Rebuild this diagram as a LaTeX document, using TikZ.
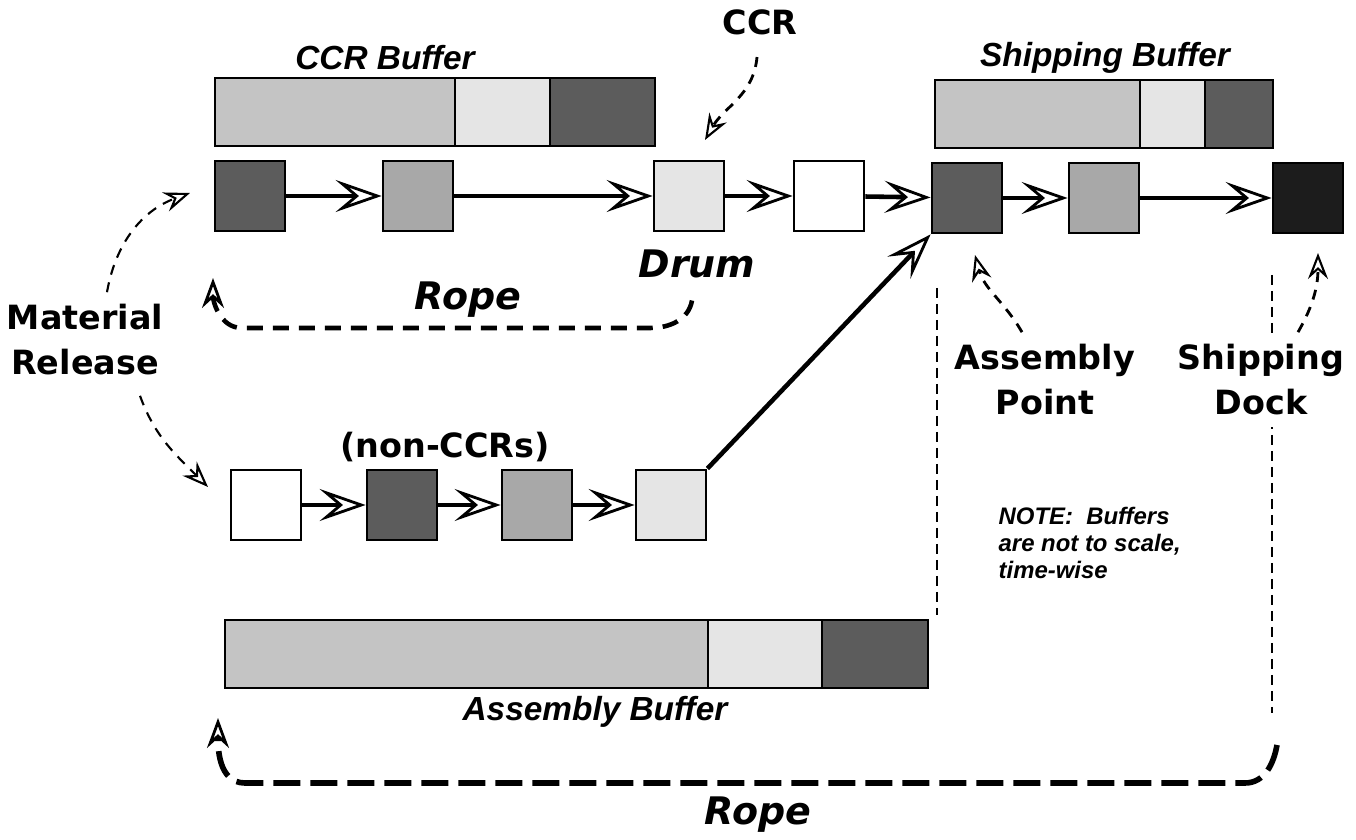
\documentclass[tikz,border=0pt]{standalone}
\usepackage{fontspec}
\setmainfont{Liberation Sans}
\newfontfamily\heavyfam{DejaVu Sans}
\usetikzlibrary{arrows.meta}
\definecolor{bufGray}{gray}{0.77}
\definecolor{midGray}{gray}{0.66}
\definecolor{lightGray}{gray}{0.90}
\definecolor{darkGray}{gray}{0.36}
\definecolor{nearBlack}{gray}{0.11}

\begin{document}
\begin{tikzpicture}
[lineDecorate/.style={-{Stealth[open,length=4.6mm,width=3.2mm,inset=1.9mm,line width=0.8pt]},line width=1.3pt},%
  ropeDecorate/.style={-{Stealth[open,length=3mm,width=2.2mm,inset=1mm,line width=0.8pt]},line width=1.3pt,dash pattern=on 1.6mm off 1mm},%
  longRopeDecorate/.style={ropeDecorate,line width=1.6pt,dash pattern=on 2.7mm off 1mm},%
  pointerDecorate/.style={-{Stealth[open,length=2.6mm,width=2mm,inset=0.9mm,line width=0.6pt]},line width=0.8pt,dash pattern=on 1mm off 0.8mm},%
  guideDecorate/.style={line width=0.6pt,dash pattern=on 1mm off 0.6mm},%
  nodeDecorate/.style={shape=rectangle,minimum size=7mm,inner sep=0pt,draw,line width=0.8pt},%
  bufDecorate/.style={draw,line width=0.8pt},%
  heavyLabel/.style={font=\heavyfam\bfseries\fontsize{9.5}{12.8}\selectfont,align=center},%
  ropeLabel/.style={font=\heavyfam\bfseries\itshape\fontsize{10.8}{13}\selectfont},%
  bufLabel/.style={font=\bfseries\itshape\fontsize{9.5}{11}\selectfont}]
\useasboundingbox (0,0) rectangle (13.56,8.40);
%% buffers
\foreach \xa/\xb/\y/\shade in {
  2.15/4.55/7.28/bufGray, 4.55/5.50/7.28/lightGray, 5.50/6.55/7.28/darkGray,
  9.35/11.40/7.26/bufGray, 11.40/12.05/7.26/lightGray, 12.05/12.73/7.26/darkGray,
  2.25/7.08/1.86/bufGray, 7.08/8.22/1.86/lightGray, 8.22/9.28/1.86/darkGray}
{
  \path[bufDecorate,fill=\shade] (\xa,\y-0.34) rectangle (\xb,\y+0.34);
}
\node (ccrBufLabel) at (3.85,7.82) [bufLabel] {CCR Buffer};
\node (shipBufLabel) at (11.05,7.82) [bufLabel] {Shipping Buffer};
\node (asmBufLabel) at (5.95,1.28) [bufLabel] {Assembly Buffer};
%% resources
\foreach \nodename/\x/\y/\shade in {
  s1/2.50/6.44/darkGray, s2/4.18/6.44/midGray, s3/6.89/6.44/lightGray,
  s4/8.29/6.44/white, s5/9.67/6.42/darkGray, s6/11.04/6.42/midGray,
  s7/13.08/6.42/nearBlack,
  b1/2.66/3.35/white, b2/4.02/3.35/darkGray, b3/5.37/3.35/midGray,
  b4/6.71/3.35/lightGray}
{
  \node (\nodename) at (\x,\y) [nodeDecorate,fill=\shade] {};
}
%% guides
\draw[guideDecorate] (9.37,5.52) -- (9.37,2.25);
\draw[guideDecorate] (12.72,5.65) -- (12.72,1.27);
%% labels
\node (ccrLabel) at (7.60,8.18) [heavyLabel] {CCR};
\node (drumLabel) at (6.97,5.76) [ropeLabel] {Drum};
\node (ropeTopLabel) at (4.68,5.40) [ropeLabel] {Rope};
\node (ropeBottomLabel) at (7.58,0.25) [ropeLabel] {Rope};
\node (releaseLabel) at (0.85,5.00) [heavyLabel] {Material\\Release};
\node (nonCcrLabel) at (4.45,3.93) [heavyLabel] {(non-CCRs)};
\node (asmPointLabel) at (10.45,4.60) [heavyLabel] {Assembly\\Point};
\node (shipDockLabel) at (12.61,4.60) [heavyLabel,fill=white] {Shipping\\Dock};
\node (noteLabel) at (9.98,3.34) [anchor=north west,inner sep=0pt,align=left,
  font=\bfseries\itshape\fontsize{6.8}{7.7}\selectfont] {NOTE:\ \ Buffers\\are not to scale,\\time-wise};
%% free ends
\coordinate (ccrEnd) at (7.05,7.00);
\coordinate (relTopEnd) at (1.90,6.47);
\coordinate (relBotEnd) at (2.08,3.53);
\coordinate (asmPointEnd) at (9.75,5.85);
\coordinate (shipDockEnd) at (13.18,5.87);
\coordinate (ropeTopEnd) at (2.13,5.62);
\coordinate (ropeBottomStart) at (12.77,0.95);
\coordinate (ropeBottomEnd) at (2.18,1.22);
%% flow
\path
\foreach \startnode/\endnode in {s1/s2, s2/s3, s3/s4, s4/s5, s5/s6, s6/s7, b1/b2, b2/b3, b3/b4}
{
  (\startnode) edge[lineDecorate] (\endnode)
};
\draw[lineDecorate] (b4.north east) -- (s5.south west);
%% pointers
\draw[pointerDecorate] ([xshift=-0.3mm,yshift=-1mm]ccrLabel.south) to[out=-95,in=60] (ccrEnd);
\draw[pointerDecorate,line width=0.6pt] ([xshift=2.2mm]releaseLabel.north) to[out=80,in=200] (relTopEnd);
\draw[pointerDecorate,line width=0.6pt] ([xshift=5.5mm,yshift=-0.8mm]releaseLabel.south) to[out=-70,in=135] (relBotEnd);
\draw[pointerDecorate] ([xshift=-2.3mm]asmPointLabel.north) to[out=120,in=-75] (asmPointEnd);
\draw[pointerDecorate] ([xshift=3.7mm]shipDockLabel.north) to[out=60,in=-90] (shipDockEnd);
%% ropes
\draw[ropeDecorate] ([xshift=-0.5mm,yshift=-1mm]drumLabel.south) to[out=-100,in=0] (6.50,5.12)
  -- (2.42,5.12) to[out=180,in=-90] (ropeTopEnd);
\draw[longRopeDecorate] (ropeBottomStart) to[out=-100,in=0] (12.45,0.57)
  -- (2.45,0.57) to[out=180,in=-90] (ropeBottomEnd);
\end{tikzpicture}
\end{document}
